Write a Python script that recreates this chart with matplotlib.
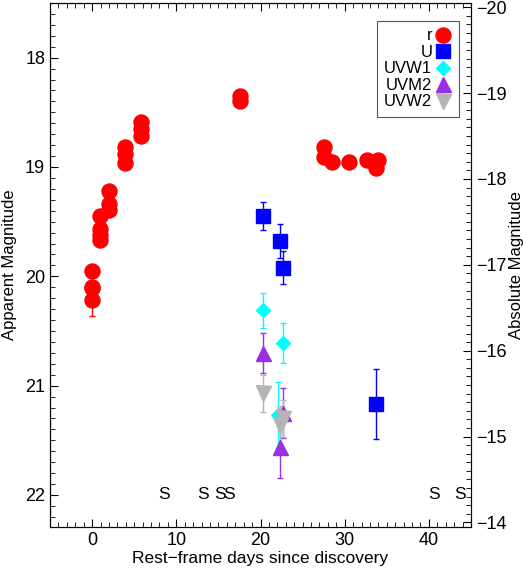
import numpy as np
import matplotlib
matplotlib.use("Agg")
from matplotlib import pyplot as plt
from matplotlib.lines import Line2D
from matplotlib.ticker import MultipleLocator

plt.rcParams['font.family'] = ['Liberation Sans', 'DejaVu Sans']

# r band (red circles)
r_day = [0.0, 0.0, 0.0, 0.0, 0.95, 0.95, 0.95, 0.95, 1.98, 1.98, 1.98,
         3.85, 3.85, 3.85, 5.85, 5.85, 5.85, 17.6, 17.6,
         27.5, 27.5, 28.5, 30.5, 32.7, 33.9, 33.7]
r_mag = [19.95, 20.10, 20.22, 20.11, 19.45, 19.57, 19.62, 19.67, 19.22, 19.34, 19.39,
         18.82, 18.88, 18.96, 18.59, 18.65, 18.72, 18.35, 18.40,
         18.82, 18.91, 18.95, 18.95, 18.94, 18.94, 19.01]
r_err = [0.05, 0.05, 0.14, 0.05, 0.05, 0.05, 0.05, 0.05, 0.05, 0.05, 0.05,
         0.05, 0.05, 0.05, 0.05, 0.05, 0.05, 0.05, 0.05,
         0.05, 0.05, 0.05, 0.05, 0.05, 0.05, 0.05]

# Swift UVOT bands
u_day = [20.27, 22.26, 22.66, 33.77]
u_mag = [19.45, 19.68, 19.92, 21.17]
u_err = [0.13, 0.155, 0.15, 0.32]

uvw1_day = [20.27, 22.66, 22.1]
uvw1_mag = [20.31, 20.61, 21.27]
uvw1_err = [0.16, 0.18, 0.30]

uvm2_day = [20.27, 22.66, 22.26]
uvm2_mag = [20.70, 21.25, 21.56]
uvm2_err = [0.18, 0.23, 0.28]

uvw2_day = [20.27, 22.26, 22.66]
uvw2_mag = [21.07, 21.36, 21.30]
uvw2_err = [0.17, 0.17, 0.17]

# epochs of spectra
spec_day = [8.5, 13.2, 15.2, 16.2, 40.6, 43.7]
spec_mag = 22.0

fig = plt.figure(figsize=(5.23, 5.73), dpi=100)
ax = fig.add_axes([0.0956, 0.0808, 0.805, 0.914])

series = [
    ("r", r_day, r_mag, r_err, "red", "o", 10.8),
    ("U", u_day, u_mag, u_err, "blue", "s", 10.5),
    ("UVW1", uvw1_day, uvw1_mag, uvw1_err, "cyan", "D", 7.2),
    ("UVM2", uvm2_day, uvm2_mag, uvm2_err, "#9a30e6", "^", 10.8),
    ("UVW2", uvw2_day, uvw2_mag, uvw2_err, "#b4b4b4", "v", 10.8),
]
handles = []
for lab, d, m, e, c, mk, ms in series:
    ax.errorbar(d, m, yerr=e, fmt=mk, color=c, ms=ms, mec=c,
                elinewidth=1.0, capsize=2.2, capthick=1.0)
    handles.append(Line2D([], [], ls="none", marker=mk, color=c, ms=ms, label=lab))

for d in spec_day:
    ax.text(d, spec_mag, "S", ha="center", va="center", fontsize=12.5)

ax.set_xlim(-5, 45)
ax.set_ylim(22.29, 17.5)
ax.xaxis.set_major_locator(MultipleLocator(10))
ax.xaxis.set_minor_locator(MultipleLocator(1))
ax.yaxis.set_major_locator(MultipleLocator(1))
ax.yaxis.set_minor_locator(MultipleLocator(0.1))
ax.tick_params(which="both", direction="in", top=True, right=False, labelsize=13)
ax.tick_params(which="major", length=6)
ax.tick_params(which="minor", length=3.5)
ax.set_xlabel("Rest\u2212frame days since discovery", fontsize=12.5, labelpad=2)
ax.set_ylabel("Apparent Magnitude", fontsize=12, labelpad=6)

ax2 = ax.twinx()
ax2.set_ylim(-13.95, -20.05)
ax2.yaxis.set_major_locator(MultipleLocator(1))
ax2.yaxis.set_minor_locator(MultipleLocator(0.1))
ax2.tick_params(which="both", direction="in", labelsize=13)
ax2.tick_params(which="major", length=6)
ax2.tick_params(which="minor", length=3.5)
ax2.set_ylabel("Absolute Magnitude", fontsize=12, labelpad=2)

leg = ax.legend(handles=handles, loc="upper right", markerfirst=False, fontsize=12,
                frameon=True, fancybox=False, edgecolor="#555555", framealpha=1,
                labelspacing=0.09, handletextpad=0.15, handlelength=1.0,
                borderpad=0.45, borderaxespad=0, bbox_to_anchor=(0.9715, 0.9656))
leg.get_frame().set_linewidth(0.8)

fig.savefig("out.png", dpi=100)
